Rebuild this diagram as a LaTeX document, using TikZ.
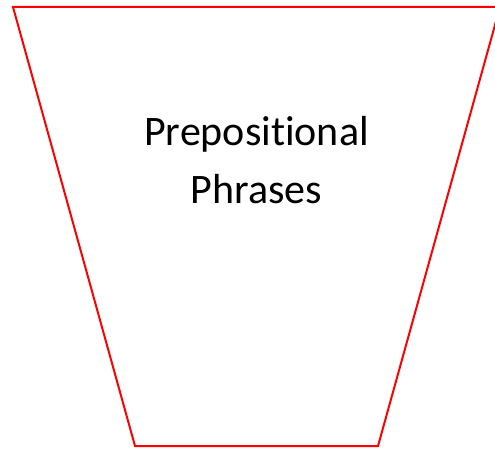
\documentclass[tikz,border=0pt]{standalone}
\usepackage{fontspec}
\setmainfont[Ligatures=NoCommon]{Carlito}
\begin{document}
\begin{tikzpicture}[x=1pt,y=1pt,
  funnel/.style={draw=red, line width=2pt, line join=miter},
  label/.style={font=\fontsize{42}{57}\selectfont, text=black, inner sep=0pt, anchor=base}]
\useasboundingbox (0,0) rectangle (495,448);
\clip (0,0) rectangle (495,448);
\coordinate (tl) at (13,441);
\coordinate (tr) at (500,441);
\coordinate (br) at (378,2);
\coordinate (bl) at (135,2);
\draw[funnel] (tl) -- (tr) -- (br) -- (bl) -- cycle;
\node[label] (l1) at (256.5,302) {Prepositional};
\node[label] (l2) at (256.5,245) {Phrases};
\end{tikzpicture}
\end{document}
